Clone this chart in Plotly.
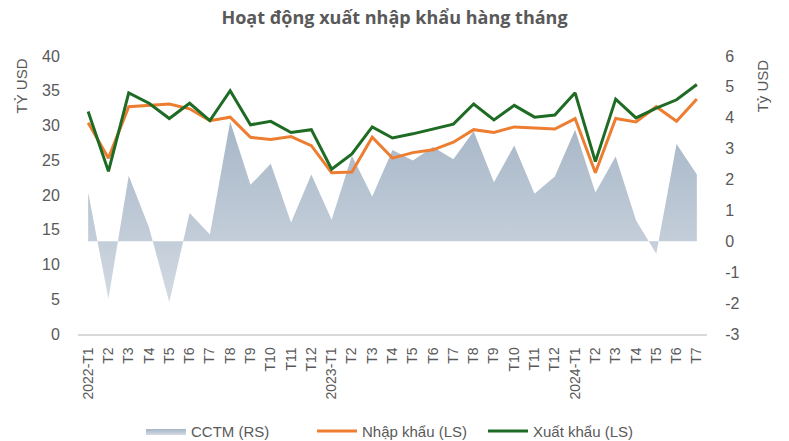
import plotly.graph_objects as go

months = ["2022-T1", "2022-T2", "2022-T3", "2022-T4", "2022-T5", "2022-T6", "2022-T7", "2022-T8",
          "2022-T9", "2022-T10", "2022-T11", "2022-T12",
          "2023-T1", "2023-T2", "2023-T3", "2023-T4", "2023-T5", "2023-T6", "2023-T7", "2023-T8",
          "2023-T9", "2023-T10", "2023-T11", "2023-T12",
          "2024-T1", "2024-T2", "2024-T3", "2024-T4", "2024-T5", "2024-T6", "2024-T7"]
tick_labels = ["2022-T1", "T2", "T3", "T4", "T5", "T6", "T7", "T8", "T9", "T10", "T11", "T12",
               "2023-T1", "T2", "T3", "T4", "T5", "T6", "T7", "T8", "T9", "T10", "T11", "T12",
               "2024-T1", "T2", "T3", "T4", "T5", "T6", "T7"]

xuat_khau = [32.0, 23.4, 34.7, 33.2, 31.0, 33.2, 30.7, 35.0,
             30.1, 30.6, 29.0, 29.4, 23.7, 25.9, 29.8, 28.2,
             28.8, 29.5, 30.2, 33.1, 30.8, 32.9, 31.2, 31.5,
             34.7, 24.8, 33.8, 31.1, 32.5, 33.7, 35.9]
nhap_khau = [30.4, 25.3, 32.7, 32.9, 33.1, 32.4, 30.7, 31.2,
             28.3, 28.0, 28.4, 27.1, 23.2, 23.3, 28.3, 25.3,
             26.1, 26.5, 27.6, 29.4, 29.0, 29.8, 29.6, 29.5,
             31.0, 23.2, 31.0, 30.5, 32.7, 30.6, 33.8]
cctm = [1.58, -1.86, 2.12, 0.45, -1.97, 0.92, 0.22, 3.88,
        1.83, 2.51, 0.61, 2.16, 0.70, 2.77, 1.45, 2.96,
        2.62, 3.05, 2.66, 3.56, 1.91, 3.10, 1.54, 2.10,
        3.61, 1.58, 2.75, 0.68, -0.40, 3.15, 2.16]

left_ticks = [0, 5, 10, 15, 20, 25, 30, 35, 40]
right_ticks = [-3, -2, -1, 0, 1, 2, 3, 4, 5, 6]

TXT = "#595959"
FONT = "Liberation Sans, Arial, sans-serif"

fig = go.Figure()
fig.add_trace(go.Scatter(
    x=months, y=cctm, name="CCTM (RS)", yaxis="y", mode="lines",
    line=dict(width=0, color="#b4c2d1"), fill="tozeroy",
    fillgradient=dict(type="vertical", start=-2.0, stop=4.0,
                      colorscale=[[0, "#d3dae3"], [1, "#a5b5c6"]]),
))
fig.add_trace(go.Scatter(
    x=months, y=nhap_khau, name="Nhập khẩu (LS)", yaxis="y2", mode="lines",
    line=dict(width=3, color="#ED7D31"),
))
fig.add_trace(go.Scatter(
    x=months, y=xuat_khau, name="Xuất khẩu (LS)", yaxis="y2", mode="lines",
    line=dict(width=3, color="#1E6B24"),
))

PL, PR, PT, PB = 77.5, 81.5, 56, 106.5
fig.update_layout(
    width=789, height=441,
    margin=dict(l=PL, r=PR, t=PT, b=PB, autoexpand=False),
    paper_bgcolor="white", plot_bgcolor="white",
    font=dict(family=FONT, color=TXT, size=13),
    title=dict(text="<b>Hoạt động xuất nhập khẩu hàng tháng</b>",
               x=0.5, xanchor="center", y=1 - 18 / 441, yanchor="middle", yref="container",
               font=dict(family="Open Sans, sans-serif", size=18, color=TXT)),
    xaxis=dict(type="category", categoryorder="array", categoryarray=months,
               tickmode="array", tickvals=months, ticktext=tick_labels,
               tickangle=-90, tickfont=dict(size=14, color=TXT),
               showgrid=False, showline=True, linecolor="#d9d9d9", linewidth=1.5,
               ticks="outside", ticklen=6, tickcolor="rgba(0,0,0,0)",
               range=[-0.5, len(months) - 0.5], automargin=False),
    yaxis=dict(side="right", range=[-3, 6], tickmode="array", tickvals=right_ticks,
               ticktext=[str(v) for v in right_ticks],
               tickfont=dict(size=16, color=TXT), showgrid=False, zeroline=False,
               ticks="outside", ticklen=14, tickcolor="rgba(0,0,0,0)", showline=False,
               automargin=False),
    yaxis2=dict(side="left", overlaying="y", range=[0, 40], tickmode="array", tickvals=left_ticks,
                ticktext=[str(v) for v in left_ticks],
                tickfont=dict(size=16, color=TXT), showgrid=False, zeroline=False,
                ticks="outside", ticklen=14, tickcolor="rgba(0,0,0,0)", showline=False,
                automargin=False),
    legend=dict(orientation="h", x=(397.5 - PL) / (789 - PL - PR), xanchor="center",
                y=-0.35, yanchor="middle",
                font=dict(size=15, color=TXT), itemwidth=40, entrywidth=116,
                traceorder="normal"),
)

plot_w = 789 - PL - PR
plot_h = 441 - PT - PB
for label, px, py in [("TỶ USD", 21, 86), ("Tỷ USD", 764, 86)]:
    fig.add_annotation(text=label, x=(px - PL) / plot_w, y=(441 - PB - py) / plot_h,
                       xref="paper", yref="paper", xanchor="center", yanchor="middle",
                       showarrow=False, textangle=-90,
                       font=dict(size=15, color=TXT))

fig.write_html("out.html", config={"displayModeBar": False},
               post_script="document.body.style.margin='0';document.body.style.overflow='hidden';")
